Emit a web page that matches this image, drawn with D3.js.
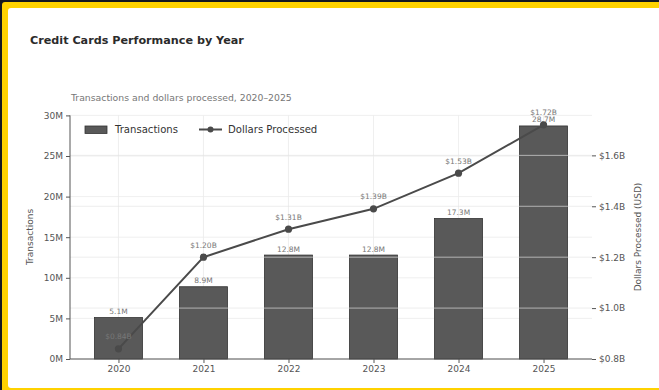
<!DOCTYPE html>
<html>
<head>
<meta charset="utf-8">
<script src="https://cdn.jsdelivr.net/npm/d3@7"></script>
<style>
  html, body { margin: 0; padding: 0; background: #ffffff; }
  svg { display: block; font-family: "DejaVu Sans", sans-serif; }
</style>
</head>
<body>
<svg id="chart" width="659" height="390"></svg>
<script>
// Yearly figures
const years = [2020, 2021, 2022, 2023, 2024, 2025];
const transactionsM = [5.1, 8.9, 12.8, 12.8, 17.3, 28.7];      // millions
const dollarsB = [0.84, 1.20, 1.31, 1.39, 1.53, 1.72];         // billions USD
const leftTicks = [0, 5, 10, 15, 20, 25, 30];
const rightTicks = [0.8, 1.0, 1.2, 1.4, 1.6];

const W = 659, H = 390;
const svg = d3.select("#chart");

// Frame: dark edge, yellow border, white card
svg.append("rect").attr("x", 0).attr("y", 0).attr("width", W).attr("height", H).attr("fill", "#15181f");
svg.append("rect").attr("x", 2).attr("y", 2).attr("width", W + 10).attr("height", H + 10)
  .attr("rx", 3).attr("fill", "#ffd200");
svg.append("rect").attr("x", 8).attr("y", 8).attr("width", W + 10).attr("height", 380)
  .attr("rx", 3).attr("fill", "#ffffff");

// Plot area
const m = { left: 70, right: 592, top: 115.4, bottom: 359 };
const x = d3.scaleLinear().domain([2020 - 0.57, 2025 + 0.57]).range([m.left, m.right]);
const yL = d3.scaleLinear().domain([0, 30]).range([m.bottom, m.top]);
const yR = d3.scaleLinear().domain([0.8, 1.757]).range([m.bottom, m.top]);
const barW = 0.565;

const g = svg.append("g");

// Background grid (left axis + years)
g.append("g").selectAll("line").data(leftTicks).join("line")
  .attr("x1", m.left).attr("x2", m.right)
  .attr("y1", d => yL(d)).attr("y2", d => yL(d))
  .attr("stroke", "#ebebeb").attr("stroke-width", 0.8);
g.append("g").selectAll("line").data(years).join("line")
  .attr("x1", d => x(d)).attr("x2", d => x(d))
  .attr("y1", m.top).attr("y2", m.bottom)
  .attr("stroke", "#ebebeb").attr("stroke-width", 0.8);

// Bars
g.append("g").selectAll("rect").data(years).join("rect")
  .attr("x", d => x(d - barW / 2))
  .attr("width", x(barW) - x(0))
  .attr("y", (d, i) => yL(transactionsM[i]))
  .attr("height", (d, i) => yL(0) - yL(transactionsM[i]))
  .attr("fill", "#595959")
  .attr("stroke", "#333333").attr("stroke-width", 0.8);

// Bar value labels
g.append("g").selectAll("text").data(years).join("text")
  .attr("x", d => x(d))
  .attr("y", (d, i) => yL(transactionsM[i]) - 3.5)
  .attr("text-anchor", "middle")
  .attr("font-size", 7.5).attr("fill", "#777777")
  .text((d, i) => transactionsM[i].toFixed(1) + "M");

// Secondary-axis grid, drawn over the bars
g.append("g").selectAll("line").data(rightTicks.slice(1)).join("line")
  .attr("x1", m.left).attr("x2", m.right)
  .attr("y1", d => yR(d)).attr("y2", d => yR(d))
  .attr("stroke", "#e4e4e4").attr("stroke-opacity", 0.65).attr("stroke-width", 1);

// Dollars line
const line = d3.line().x((d, i) => x(years[i])).y(d => yR(d));
g.append("path").datum(dollarsB)
  .attr("d", line)
  .attr("fill", "none").attr("stroke", "#4a4a4a").attr("stroke-width", 2);
g.append("g").selectAll("circle").data(dollarsB).join("circle")
  .attr("cx", (d, i) => x(years[i])).attr("cy", d => yR(d))
  .attr("r", 3.6).attr("fill", "#4a4a4a");
g.append("g").selectAll("text").data(dollarsB).join("text")
  .attr("x", (d, i) => x(years[i]))
  .attr("y", d => yR(d) - 9.5)
  .attr("text-anchor", "middle")
  .attr("font-size", 7.5).attr("fill", "#777777")
  .text(d => "$" + d.toFixed(2) + "B");

// Axes
const axisColor = "#555555";
const left = svg.append("g").attr("transform", `translate(${m.left},0)`)
  .call(d3.axisLeft(yL).tickValues(leftTicks).tickFormat(d => d + "M").tickSize(4).tickPadding(3));
const right = svg.append("g").attr("transform", `translate(${m.right},0)`)
  .call(d3.axisRight(yR).tickValues(rightTicks).tickFormat(d => "$" + d.toFixed(1) + "B").tickSize(4).tickPadding(3));
const bottom = svg.append("g").attr("transform", `translate(0,${m.bottom})`)
  .call(d3.axisBottom(x).tickValues(years).tickFormat(d3.format("d")).tickSize(4).tickPadding(3));
[left, right, bottom].forEach(a => {
  a.selectAll("text").attr("font-size", 9).attr("fill", "#555555").attr("font-family", "DejaVu Sans, sans-serif");
  a.selectAll("line").attr("stroke", axisColor);
  a.select(".domain").attr("stroke", axisColor).attr("stroke-width", 1);
});
right.select(".domain").remove();
left.select(".domain").attr("d", `M0,${m.top}V${m.bottom}`);
bottom.select(".domain").attr("d", `M${m.left},0H${m.right}`);

// Axis titles
svg.append("text").attr("transform", `translate(33,237) rotate(-90)`)
  .attr("text-anchor", "middle").attr("font-size", 9).attr("fill", "#555555")
  .text("Transactions");
svg.append("text").attr("transform", `translate(641,237) rotate(-90)`)
  .attr("text-anchor", "middle").attr("font-size", 9).attr("fill", "#555555")
  .text("Dollars Processed (USD)");

// Titles
svg.append("text").attr("x", 30).attr("y", 43.5)
  .attr("font-size", 11.2).attr("font-weight", "bold").attr("fill", "#2b2b2b")
  .text("Credit Cards Performance by Year");
svg.append("text").attr("x", 71).attr("y", 101)
  .attr("font-size", 9.3).attr("fill", "#777777")
  .text("Transactions and dollars processed, 2020–2025");

// Legend
const lg = svg.append("g");
lg.append("rect").attr("x", 85).attr("y", 126).attr("width", 22).attr("height", 7.5)
  .attr("fill", "#595959").attr("stroke", "#333333").attr("stroke-width", 0.8);
lg.append("text").attr("x", 115).attr("y", 133).attr("font-size", 10.1).attr("fill", "#333333").text("Transactions");
lg.append("line").attr("x1", 199).attr("x2", 222).attr("y1", 129.5).attr("y2", 129.5)
  .attr("stroke", "#4a4a4a").attr("stroke-width", 2);
lg.append("circle").attr("cx", 210.5).attr("cy", 129.5).attr("r", 3).attr("fill", "#4a4a4a");
lg.append("text").attr("x", 228).attr("y", 133).attr("font-size", 10.1).attr("fill", "#333333").text("Dollars Processed");
</script>
</body>
</html>
